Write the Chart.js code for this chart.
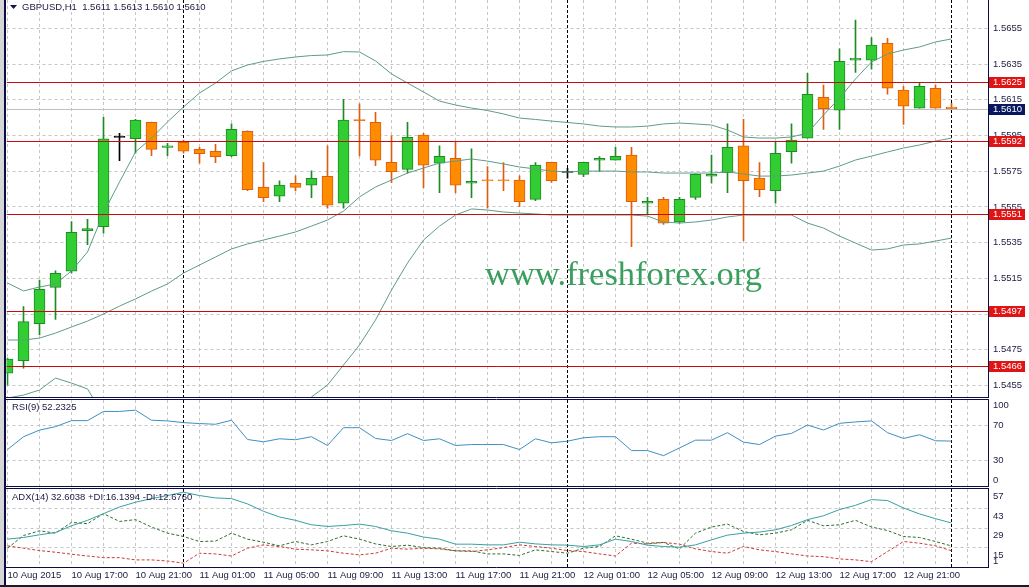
<!DOCTYPE html>
<html>
<head>
  <meta charset="utf-8">
  <title>GBPUSD,H1</title>
  <script src="https://cdn.jsdelivr.net/npm/chart.js"></script>
  <style>
    body { margin: 0; background: #fff; }
    #wrap { position: relative; width: 1029px; height: 587px; overflow: hidden; }
    canvas { position: absolute; left: 0; }
  </style>
</head>
<body>
<div id="wrap">
  <canvas id="mainCanvas" width="1029" height="398" style="top:0;width:1029px;height:398px"></canvas>
  <canvas id="rsiCanvas" width="1029" height="90" style="top:398px;width:1029px;height:90px"></canvas>
  <canvas id="adxCanvas" width="1029" height="99" style="top:488px;width:1029px;height:99px"></canvas>
</div>

<script>
  // H1 bars, 10 Aug 13:00 .. 13 Aug 00:00
  const open = [1.54620, 1.54689, 1.54897, 1.55100, 1.55190, 1.55417, 1.55440, 1.55940, 1.55932, 1.56024,
    1.55884, 1.55912, 1.55873, 1.55862, 1.55837, 1.55974, 1.55662, 1.55610, 1.55683, 1.55672,
    1.55722, 1.55571, 1.56040, 1.56024, 1.55800, 1.55761, 1.55952, 1.55795, 1.55823, 1.55683,
    1.55701, 1.55700, 1.55700, 1.55593, 1.55800, 1.55744, 1.55733, 1.55812, 1.55812, 1.55840,
    1.55571, 1.55593, 1.55466, 1.55604, 1.55722, 1.55742, 1.55892, 1.55712, 1.55641, 1.55860,
    1.55935, 1.56164, 1.56092, 1.56372, 1.56372, 1.56467, 1.56204, 1.56103, 1.56215, 1.56110];
  const high = [1.54704, 1.54992, 1.55141, 1.55193, 1.55468, 1.55481, 1.56052, 1.55963, 1.56041, 1.56026,
    1.55907, 1.55925, 1.55884, 1.55901, 1.56015, 1.55976, 1.55798, 1.55696, 1.55724, 1.55752,
    1.55892, 1.56153, 1.56127, 1.56080, 1.55949, 1.56024, 1.55963, 1.55892, 1.55914, 1.55875,
    1.55776, 1.55798, 1.55724, 1.55798, 1.55802, 1.55767, 1.55802, 1.55832, 1.55884, 1.55884,
    1.55604, 1.55604, 1.55604, 1.55735, 1.55840, 1.56015, 1.56041, 1.55798, 1.55916, 1.56015,
    1.56299, 1.56232, 1.56435, 1.56597, 1.56498, 1.56495, 1.56226, 1.56248, 1.56233, 1.56130];
  const low = [1.54553, 1.54647, 1.54833, 1.54921, 1.55179, 1.55339, 1.55403, 1.55809, 1.55851, 1.55837,
    1.55837, 1.55852, 1.55795, 1.55798, 1.55832, 1.55641, 1.55580, 1.55580, 1.55640, 1.55602,
    1.55543, 1.55543, 1.55836, 1.55781, 1.55686, 1.55739, 1.55658, 1.55630, 1.55630, 1.55602,
    1.55543, 1.55641, 1.55552, 1.55585, 1.55688, 1.55712, 1.55720, 1.55748, 1.55812, 1.55328,
    1.55505, 1.55453, 1.55459, 1.55593, 1.55683, 1.55630, 1.55361, 1.55608, 1.55571, 1.55795,
    1.55935, 1.55985, 1.55985, 1.56304, 1.56321, 1.56181, 1.56013, 1.56103, 1.56103, 1.56100];
  const close = [1.54699, 1.54908, 1.55089, 1.55179, 1.55408, 1.55429, 1.55932, 1.55940, 1.56036, 1.55873,
    1.55892, 1.55862, 1.55849, 1.55832, 1.55985, 1.55647, 1.55602, 1.55672, 1.55660, 1.55711,
    1.55560, 1.56036, 1.56034, 1.55812, 1.55748, 1.55940, 1.55784, 1.55834, 1.55672, 1.55694,
    1.55696, 1.55696, 1.55580, 1.55784, 1.55697, 1.55744, 1.55800, 1.55823, 1.55834, 1.55580,
    1.55582, 1.55459, 1.55593, 1.55733, 1.55733, 1.55884, 1.55697, 1.55647, 1.55851, 1.55924,
    1.56181, 1.56100, 1.56366, 1.56383, 1.56456, 1.56215, 1.56114, 1.56226, 1.56103, 1.56100];

  // Bollinger bands
  const bbUpper = [1.55124, 1.55080, 1.55102, 1.55119, 1.55192, 1.55298, 1.55516, 1.55690, 1.55858, 1.55936,
    1.56026, 1.56110, 1.56188, 1.56244, 1.56312, 1.56345, 1.56365, 1.56379, 1.56390, 1.56398,
    1.56401, 1.56420, 1.56418, 1.56368, 1.56295, 1.56244, 1.56194, 1.56143, 1.56121, 1.56104,
    1.56090, 1.56071, 1.56048, 1.56040, 1.56031, 1.56023, 1.56015, 1.56003, 1.55998, 1.55998,
    1.56003, 1.56015, 1.56020, 1.56015, 1.56009, 1.55981, 1.55942, 1.55936, 1.55936, 1.55942,
    1.55964, 1.56065, 1.56160, 1.56267, 1.56362, 1.56407, 1.56429, 1.56446, 1.56474, 1.56491];
  const bbMiddle = [1.54805, 1.54805, 1.54816, 1.54844, 1.54878, 1.54911, 1.54951, 1.54995, 1.55035, 1.55079,
    1.55119, 1.55180, 1.55225, 1.55270, 1.55315, 1.55343, 1.55365, 1.55387, 1.55410, 1.55443,
    1.55477, 1.55527, 1.55606, 1.55662, 1.55701, 1.55740, 1.55768, 1.55796, 1.55807, 1.55819,
    1.55807, 1.55791, 1.55774, 1.55763, 1.55751, 1.55746, 1.55751, 1.55751, 1.55751, 1.55746,
    1.55746, 1.55740, 1.55740, 1.55740, 1.55740, 1.55746, 1.55735, 1.55723, 1.55723, 1.55729,
    1.55740, 1.55751, 1.55779, 1.55813, 1.55835, 1.55858, 1.55880, 1.55897, 1.55919, 1.55936];
  const bbLower = [1.54480, 1.54497, 1.54525, 1.54592, 1.54564, 1.54531, 1.54385, 1.54301, 1.54211, 1.54223,
    1.54211, 1.54251, 1.54262, 1.54295, 1.54318, 1.54340, 1.54368, 1.54396, 1.54430, 1.54486,
    1.54553, 1.54665, 1.54777, 1.54917, 1.55085, 1.55236, 1.55365, 1.55443, 1.55505, 1.55539,
    1.55533, 1.55522, 1.55516, 1.55511, 1.55505, 1.55505, 1.55505, 1.55505, 1.55505, 1.55505,
    1.55499, 1.55466, 1.55460, 1.55466, 1.55477, 1.55494, 1.55505, 1.55505, 1.55505, 1.55505,
    1.55460, 1.55432, 1.55387, 1.55348, 1.55309, 1.55315, 1.55337, 1.55343, 1.55359, 1.55376];

  const rsi = [42.4, 57.3, 65, 69, 76, 76, 86.7, 86.7, 88.2, 76.5,
    75.7, 73.7, 72.6, 71.8, 76.5, 54.1, 51.4, 54.9, 53.8, 57.3,
    47.1, 67.8, 67.8, 55.3, 52.9, 60.8, 52.9, 54.9, 47.1, 48.2,
    48.2, 48.2, 42.4, 54.9, 50.2, 52.1, 56.1, 57.3, 57.3, 41.2,
    41.2, 35.3, 44.3, 53.3, 53.3, 62, 51, 48.2, 58, 61.2,
    70.9, 65.1, 72.9, 74.5, 75.7, 62, 55.3, 59.6, 52.6, 52.2];
  const adx = [21, 22.2, 24.1, 25.8, 30.6, 34.5, 39.3, 44.1, 47.5, 50.1,
    52.3, 54.7, 52.3, 50.6, 50.1, 46.3, 41, 36.9, 34.5, 31.3,
    30.1, 30.8, 31.8, 30.1, 27, 25.3, 22.5, 21, 17.4, 17.4,
    16.9, 16.9, 18.8, 17.6, 16.9, 16.7, 15.7, 16.9, 21, 19.3,
    16.7, 15.7, 15.2, 16.9, 20.5, 23.9, 25.3, 26.1, 27.7, 30.8,
    35, 37.8, 42.2, 45.3, 49.4, 48.7, 43.4, 39.1, 35.7, 32.6];
  const plusDi = [14.5, 23.6, 27, 25.3, 33, 32.1, 39.3, 33.7, 35, 29.7,
    25.3, 22.9, 19.3, 19.6, 25.3, 21, 18.8, 16.2, 19.3, 16.9,
    19.3, 23.4, 21, 17.6, 15.7, 16.7, 14.9, 14.5, 12.6, 12.6,
    10.4, 10.4, 9.3, 13.3, 12.1, 10.9, 14.5, 15.7, 23.4, 21,
    18.1, 18.6, 14, 25.3, 29.7, 31.8, 26.5, 24.1, 25.3, 27.7,
    34.5, 30.6, 31.3, 34.5, 29.7, 27.2, 22.9, 22.2, 19.3, 16.1];
  const minusDi = [16.2, 14.5, 12.8, 11.6, 10.2, 8.9, 7.7, 7.7, 6.1, 6.1,
    5.3, 3.7, 10.9, 10.4, 8.9, 14.5, 16.9, 15.7, 13.8, 13.3,
    12.6, 10.9, 9.7, 10.9, 14.5, 13.8, 14.5, 14, 12.6, 12.1,
    13.3, 14.9, 16.9, 15.7, 14.5, 12.8, 12.1, 10.4, 8.9, 18.1,
    17.6, 18.6, 17.4, 14, 12.1, 10.9, 15.7, 13.3, 12.1, 10.4,
    8.9, 8.4, 6.8, 6.1, 4.8, 12.1, 19.3, 18.1, 16.2, 12.7];

  const priceTicks = [1.5455, 1.5475, 1.5495, 1.5515, 1.5535, 1.5555, 1.5575, 1.5595, 1.5615, 1.5635, 1.5655];
  const levels = [1.5625, 1.5592, 1.5551, 1.5497, 1.5466];
  const bid = 1.5610;
  const rsiTicks = [100, 70, 30, 0];
  const rsiLevels = [30, 70];
  const adxTicks = [57, 43, 29, 15, 1];
  const timeLabels = ['10 Aug 2015', '10 Aug 17:00', '10 Aug 21:00', '11 Aug 01:00', '11 Aug 05:00',
    '11 Aug 09:00', '11 Aug 13:00', '11 Aug 17:00', '11 Aug 21:00', '12 Aug 01:00', '12 Aug 05:00',
    '12 Aug 09:00', '12 Aug 13:00', '12 Aug 17:00', '12 Aug 21:00'];
  const dayStarts = [11, 35, 59];   // first bar of 11, 12 and 13 Aug

  const mainTitle = 'GBPUSD,H1  1.5611 1.5613 1.5610 1.5610';
  const rsiTitle = 'RSI(9) 52.2325';
  const adxTitle = 'ADX(14) 32.6038 +DI:16.1394 -DI:12.6760';
  const watermark = 'www.freshforex.org';

  // ---- styles ----
  const FONT = '"Liberation Sans", Arial, sans-serif';
  const TXT = '#1b1b40';
  const GRID = '#c6c6c6';
  const FRAME = '#0c0c48';
  const BAND = '#5f9c86';
  const UP_FILL = '#32cd32', UP_LINE = '#1f8b24';
  const DN_FILL = '#ff8c00', DN_LINE = '#dc5e12';
  const X_MIN = -0.0625, X_MAX = 61.28125;

  Chart.defaults.font.family = FONT;
  Chart.defaults.font.size = 9.5;
  Chart.defaults.color = TXT;

  const idx = open.map((_, i) => i);
  const dir = idx.map(i => Math.sign(close[i] - open[i]));
  const bodyFill = dir.map(d => d > 0 ? UP_FILL : d < 0 ? DN_FILL : '#000');
  const lineCol = dir.map(d => d > 0 ? UP_LINE : d < 0 ? DN_LINE : '#000');
  const xy = arr => arr.map((v, i) => ({ x: i, y: v }));

  const gridBars = [];
  for (let v = 0; v <= 60; v += 2) gridBars.push(v);

  function noPad(s) {
    s.paddingTop = 0; s.paddingBottom = 0; s.paddingLeft = 0; s.paddingRight = 0;
  }

  function options(padding, yCfg, showTime) {
    return {
      responsive: false, animation: false, devicePixelRatio: 1, events: [],
      layout: { padding },
      plugins: { legend: { display: false }, tooltip: { enabled: false } },
      scales: {
        x: {
          type: 'linear', min: X_MIN, max: X_MAX, offset: false,
          afterBuildTicks: s => { s.ticks = gridBars.map(v => ({ value: v })); },
          afterFit: s => { s.height = showTime ? 20 : 0; noPad(s); },
          grid: { color: GRID, drawTicks: false, offset: false },
          border: { display: false, dash: [3, 3] },
          ticks: {
            display: showTime, autoSkip: false, maxRotation: 0, minRotation: 0,
            align: 'start', padding: 3, color: TXT,
            callback: v => (v % 4 === 0 && timeLabels[v / 4]) || ''
          }
        },
        y: Object.assign({
          position: 'right',
          afterFit: s => { s.width = 41; noPad(s); },
          grid: { color: GRID, drawTicks: false },
          border: { display: false, dash: [3, 3] }
        }, yCfg)
      }
    };
  }

  // frame, separators, titles; extra hooks per panel
  function panelPlugin(cfg) {
    return {
      id: 'panel',
      beforeDraw(chart) {
        const ctx = chart.ctx;
        ctx.save();
        ctx.fillStyle = '#d6d6d6';
        ctx.fillRect(0, 0, 4, chart.height);
        ctx.fillStyle = FRAME;
        ctx.fillRect(4, 0, 2, chart.height);
        ctx.restore();
      },
      beforeDatasetsDraw(chart) {
        const { ctx, chartArea: a, scales: { x } } = chart;
        ctx.save();
        ctx.beginPath();
        ctx.rect(a.left, a.top, a.right - a.left, a.bottom - a.top);
        ctx.clip();
        if (cfg.under) cfg.under(chart, ctx);
        ctx.strokeStyle = '#000';
        ctx.lineWidth = 1;
        ctx.setLineDash([3, 2]);
        dayStarts.forEach(d => {
          const px = Math.floor(x.getPixelForValue(d)) + 0.5;
          ctx.beginPath();
          ctx.moveTo(px, a.top);
          ctx.lineTo(px, a.bottom);
          ctx.stroke();
        });
        ctx.restore();
      },
      afterDatasetsDraw(chart) {
        if (!cfg.over) return;
        const { ctx, chartArea: a } = chart;
        ctx.save();
        ctx.beginPath();
        ctx.rect(a.left, a.top, a.right - a.left, a.bottom - a.top);
        ctx.clip();
        cfg.over(chart, ctx);
        ctx.restore();
      },
      afterDraw(chart) {
        const { ctx, chartArea: a } = chart;
        ctx.save();
        ctx.strokeStyle = FRAME;
        ctx.lineWidth = 1;
        ctx.beginPath();
        ctx.moveTo(a.right + 0.5, cfg.topBorder ? a.top - 1 : 0);
        ctx.lineTo(a.right + 0.5, a.bottom + 1);
        ctx.moveTo(4, a.bottom + 0.5);
        ctx.lineTo(a.right + 1, a.bottom + 0.5);
        if (cfg.topBorder) {
          ctx.moveTo(4, a.top - 0.5);
          ctx.lineTo(a.right + 1, a.top - 0.5);
        }
        ctx.stroke();
        ctx.font = '9.5px ' + FONT;
        ctx.textBaseline = 'middle';
        ctx.textAlign = 'left';
        ctx.fillStyle = TXT;
        if (cfg.after) cfg.after(chart, ctx);
        ctx.restore();
      }
    };
  }

  function sideLabels(chart, ctx, ticks, shift) {
    const { chartArea: a, scales: { y } } = chart;
    ctx.fillStyle = TXT;
    ticks.forEach(v => {
      let py = y.getPixelForValue(v) + shift;
      py = Math.min(Math.max(py, a.top + 5), a.bottom - 6);
      ctx.fillText(String(v), a.right + 5, py);
    });
  }

  // ---- main price panel ----
  new Chart(document.getElementById('mainCanvas'), {
    type: 'bar',
    data: {
      datasets: [
        { type: 'line', data: xy(bbUpper), borderColor: BAND, borderWidth: 1, pointRadius: 0, order: 0 },
        { type: 'line', data: xy(bbMiddle), borderColor: BAND, borderWidth: 1, pointRadius: 0, order: 0 },
        { type: 'line', data: xy(bbLower), borderColor: BAND, borderWidth: 1, pointRadius: 0, order: 0 },
        {
          type: 'bar', data: idx.map(i => ({ x: i, y: [open[i], close[i]] })),
          backgroundColor: bodyFill, borderColor: lineCol, borderWidth: 1, borderSkipped: false,
          barThickness: 11, grouped: false, minBarLength: 1, order: 1
        },
        {
          type: 'bar', data: idx.map(i => ({ x: i, y: [low[i], high[i]] })),
          backgroundColor: lineCol, borderWidth: 0, barThickness: 1, grouped: false, order: 2
        }
      ]
    },
    options: options({ left: 6.5, right: 0, top: 0, bottom: 1 }, {
      min: 1.54486, max: 1.56709,
      afterBuildTicks: s => { s.ticks = priceTicks.map(v => ({ value: v })); },
      ticks: { padding: 5, color: TXT, callback: v => v.toFixed(4) }
    }, false),
    plugins: [panelPlugin({
      under(chart, ctx) {
        const { chartArea: a, scales: { y } } = chart;
        const py = Math.round(y.getPixelForValue(bid)) + 0.5;
        ctx.strokeStyle = '#c0c0c0';
        ctx.lineWidth = 1;
        ctx.beginPath();
        ctx.moveTo(a.left, py);
        ctx.lineTo(a.right, py);
        ctx.stroke();
        ctx.font = '34.5px "Liberation Serif", "Times New Roman", serif';
        ctx.fillStyle = '#3a9f5e';
        ctx.textBaseline = 'alphabetic';
        ctx.fillText(watermark, 485, 285);
      },
      over(chart, ctx) {
        const { chartArea: a, scales: { y } } = chart;
        ctx.strokeStyle = '#c40d0d';
        ctx.lineWidth = 1;
        levels.forEach(v => {
          const py = Math.round(y.getPixelForValue(v)) + 0.5;
          ctx.beginPath();
          ctx.moveTo(a.left, py);
          ctx.lineTo(a.right, py);
          ctx.stroke();
        });
      },
      after(chart, ctx) {
        const { chartArea: a, scales: { y } } = chart;
        const box = (v, bg) => {
          const py = Math.round(y.getPixelForValue(v));
          ctx.fillStyle = bg;
          ctx.fillRect(a.right + 1, py - 5, 36, 11);
          ctx.fillStyle = '#fff';
          ctx.fillText(v.toFixed(4), a.right + 5, py + 0.5);
        };
        levels.forEach(v => box(v, '#e01414'));
        box(bid, '#0a1660');
        // title with drop marker
        ctx.fillStyle = '#14144a';
        ctx.beginPath();
        ctx.moveTo(10, 5);
        ctx.lineTo(17, 5);
        ctx.lineTo(13.5, 9);
        ctx.closePath();
        ctx.fill();
        ctx.fillStyle = TXT;
        ctx.fillText(mainTitle, 22, 7.5);
      }
    })]
  });

  // ---- RSI panel ----
  new Chart(document.getElementById('rsiCanvas'), {
    type: 'line',
    data: {
      datasets: [
        { data: xy(rsi), borderColor: '#3f8fc2', borderWidth: 1, pointRadius: 0 }
      ]
    },
    options: options({ left: 6.5, right: 0, top: 2, bottom: 2 }, {
      min: 0, max: 100,
      afterBuildTicks: s => { s.ticks = rsiLevels.map(v => ({ value: v })); },
      ticks: { display: false }
    }, false),
    plugins: [panelPlugin({
      topBorder: true,
      after(chart, ctx) {
        sideLabels(chart, ctx, rsiTicks, 0);
        ctx.fillText(rsiTitle, 12, chart.chartArea.top + 7.5);
      }
    })]
  });

  // ---- ADX panel + time axis ----
  new Chart(document.getElementById('adxCanvas'), {
    type: 'line',
    data: {
      datasets: [
        { data: xy(adx), borderColor: '#3a9fa4', borderWidth: 1, pointRadius: 0 },
        { data: xy(plusDi), borderColor: '#2d6e2d', borderWidth: 1, borderDash: [3, 2], pointRadius: 0 },
        { data: xy(minusDi), borderColor: '#cc3a3a', borderWidth: 1, borderDash: [3, 2], pointRadius: 0 }
      ]
    },
    options: options({ left: 6.5, right: 0, top: 1, bottom: 0 }, {
      min: 1, max: 57,
      afterBuildTicks: s => { s.ticks = [15, 29, 43].map(v => ({ value: v })); },
      ticks: { display: false }
    }, true),
    plugins: [panelPlugin({
      topBorder: true,
      after(chart, ctx) {
        sideLabels(chart, ctx, adxTicks, 7.5);
        ctx.fillText(adxTitle, 12, chart.chartArea.top + 8);
        ctx.fillStyle = '#1a1a2a';
        ctx.fillRect(0, chart.height - 2, chart.width, 2);
      }
    })]
  });
</script>
</body>
</html>
